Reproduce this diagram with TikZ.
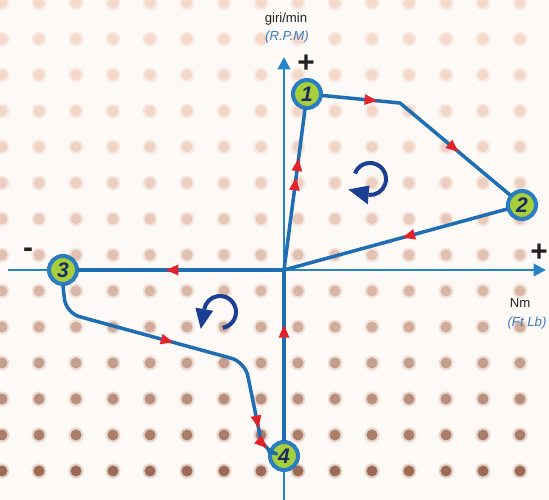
\documentclass[tikz,border=0pt]{standalone}
\usepackage{fontspec}
\setmainfont{Liberation Sans}
\usetikzlibrary{arrows.meta,calc,decorations.markings}
\definecolor{Paper}{HTML}{FDF9F6}
\definecolor{DotTop}{HTML}{F5DACC}
\definecolor{DotLow}{HTML}{8E5A45}
\definecolor{AxisBlue}{HTML}{2584C8}
\definecolor{PathBlue}{HTML}{1F6DB2}
\definecolor{RingBlue}{HTML}{2A7DC2}
\definecolor{Lime}{HTML}{A6CF3B}
\definecolor{Digit}{HTML}{1D2C5E}
\definecolor{Turn}{HTML}{1B3F93}
\definecolor{TipRed}{HTML}{E3232B}
\definecolor{Caption}{HTML}{3A7CBF}
\definecolor{Ink}{HTML}{222222}

\begin{document}
\begin{tikzpicture}[x=0.02cm,y=0.02cm,
  axis/.style={-{Triangle[length=7pt,width=7pt]},line width=1.5pt,color=AxisBlue},
  flow/.style={line width=2pt,color=PathBlue,line cap=round,line join=round,
    postaction={decorate},decoration={markings}},
  redtip/.style={decoration={mark=at position #1 with
    {\arrow{Triangle[length=7.5pt,width=5.5pt,color=TipRed]}}}},
  stage/.style={circle,draw=RingBlue,line width=2.3pt,fill=Lime,minimum size=0.56cm,
    inner sep=0pt,font=\fontsize{12}{12}\selectfont\bfseries\itshape,text=Digit},
  turn/.style={line width=2.3pt,color=Turn},
  label/.style={font=\fontsize{7.5}{8}\selectfont,color=Ink,inner sep=0pt},
  unit/.style={label,font=\fontsize{7.5}{8}\selectfont\itshape,color=Caption},
  sign/.style={font=\fontsize{17}{17}\selectfont\bfseries,color=Ink,inner sep=0pt}
]
\useasboundingbox (0,0) rectangle (549,500);

% Dotted backdrop.
\fill[Paper] (0,0) rectangle (549,500);
\foreach \r in {0,...,13}
  \foreach \c in {0,...,14}{
    \pgfmathsetmacro\p{100*((3+36*\r)/500)^2.4}
    \pgfmathsetmacro\q{0.5*\p}
    \fill[DotLow!\q!DotTop!45!Paper] ({2+37*\c},{497-36*\r}) circle (7.5);
    \fill[DotLow!\p!DotTop] ({2+37*\c},{497-36*\r}) circle (5.5);
  }

% Axes.
\draw[axis] (284,-2) -- (284,443);
\draw[axis] (8,230) -- (546,230);
\node[label] (rpm) at (286,481) {giri/min};
\node[unit] (rpmunit) at (287,463) {(R.P.M)};
\node[sign] (yplus) at (306,436) {+};
\node[sign] (xminus) at (28,247) {-};
\node[sign] (xplus) at (539,247) {+};
\node[label] (nm) at (520,197) {Nm};
\node[unit] (ftlb) at (527,177) {(Ft Lb)};

% Operating points.
\coordinate (O) at (284,230);
\node[stage] (n1) at (307,406) {1};
\node[stage] (n2) at (522,295) {2};
\node[stage] (n3) at (63,230) {3};
\node[stage] (n4) at (284,44) {4};
\coordinate (b1) at (400,397);
\coordinate (k1) at (66,187);
\coordinate (k2) at (245,138);
\coordinate (k3) at (263,50);

% Cycle.
\draw[flow,redtip=0.58,redtip=0.70] (O) -- (n1);
\draw[flow,redtip=0.25,redtip=0.70] (n1) -- (b1) -- (n2);
\draw[flow,redtip=0.47] (n2) -- (O);
\draw[flow,redtip=0.58] (O) -- (n3);
\draw[flow,rounded corners=8pt,redtip=0.43,redtip=0.87,redtip=0.94]
  (n3.south) -- (k1) -- (k2) -- (k3) -- (n4);
\draw[flow,redtip=0.68] (n4) -- (O);

% Turning sense.
\begin{scope}[shift={(370,321)}]
  \draw[turn] (160:16) arc[start angle=160,end angle=-95,radius=16];
  \fill[Turn] (-95:6.5) -- (-95:25.5) -- ($(-95:16)+(165:21)$) -- cycle;
\end{scope}
\begin{scope}[shift={(220,188)}]
  \draw[turn] (-80:16) arc[start angle=-80,end angle=170,radius=16];
  \fill[Turn] (170:7) -- (170:25) -- ($(170:16)+(260:20)$) -- cycle;
\end{scope}
\end{tikzpicture}
\end{document}
